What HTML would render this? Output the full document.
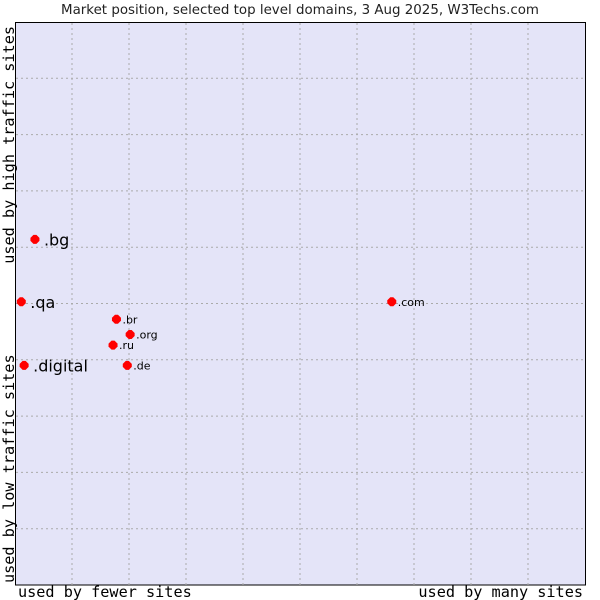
<!DOCTYPE html>
<html><head><meta charset="utf-8"><style>
body{margin:0;background:#fff}
svg{display:block}
</style></head><body>
<svg id="chart" width="600" height="600" xmlns="http://www.w3.org/2000/svg">
<text x="300" y="14" text-anchor="middle" font-family="DejaVu Sans, sans-serif" font-size="13.4" fill="#222">Market position, selected top level domains, 3 Aug 2025, W3Techs.com</text>
<rect x="15.5" y="22.5" width="570" height="562.5" fill="#e4e4f8" stroke="#000" stroke-width="1"/>
<g id="grid"></g>
<g id="points"></g>
<text transform="translate(14,26) rotate(-90)" text-anchor="end" font-family="DejaVu Sans Mono, monospace" font-size="15.2" fill="#000">used by high traffic sites</text>
<text transform="translate(14,583) rotate(-90)" text-anchor="start" font-family="DejaVu Sans Mono, monospace" font-size="15.2" fill="#000">used by low traffic sites</text>
<text x="18" y="597" font-family="DejaVu Sans Mono, monospace" font-size="15.2" fill="#000">used by fewer sites</text>
<text x="583" y="597" text-anchor="end" font-family="DejaVu Sans Mono, monospace" font-size="15.2" fill="#000">used by many sites</text>
</svg>
<script>
const labels = [".bg", ".qa", ".digital", ".br", ".org", ".ru", ".de", ".com"];
const xValues = [0.35, 0.11, 0.16, 1.78, 2.02, 1.72, 1.97, 6.61];
const yValues = [6.14, 5.03, 3.90, 4.72, 4.45, 4.26, 3.90, 5.03];
const bigLabel = [true, true, true, false, false, false, false, false];
const gridTicks = [1,2,3,4,5,6,7,8,9];

const NS = "http://www.w3.org/2000/svg";
const X0 = 15, X1 = 585, Y0 = 585, Y1 = 22;
function sx(v){ return X0 + v/10*(X1-X0); }
function sy(v){ return Y0 - v/10*(Y0-Y1); }

const grid = document.getElementById('grid');
gridTicks.forEach(t => {
  const v = document.createElementNS(NS,'line');
  
  
  v.setAttribute('x1', sx(t)); v.setAttribute('x2', sx(t));
  v.setAttribute('y1', Y1+1); v.setAttribute('y2', Y0);
  v.setAttribute('stroke', '#aaa'); v.setAttribute('stroke-dasharray', '2,3');
  grid.appendChild(v);
  const h = document.createElementNS(NS,'line');
  
  
  h.setAttribute('x1', X0+1); h.setAttribute('x2', X1);
  h.setAttribute('y1', sy(t)); h.setAttribute('y2', sy(t));
  h.setAttribute('stroke', '#aaa'); h.setAttribute('stroke-dasharray', '2,3');
  grid.appendChild(h);
});

const pts = document.getElementById('points');
labels.forEach((lab, i) => {
  const cx = sx(xValues[i]), cy = sy(yValues[i]);
  const p = document.createElementNS(NS,'polygon');
  
  
  p.setAttribute('points', `${cx-4.5},${cy-1.5} ${cx-1.5},${cy-4.5} ${cx+1.5},${cy-4.5} ${cx+4.5},${cy-1.5} ${cx+4.5},${cy+1.5} ${cx+1.5},${cy+4.5} ${cx-1.5},${cy+4.5} ${cx-4.5},${cy+1.5}`);
  p.setAttribute('fill', '#ff0000');
  pts.appendChild(p);
  const t = document.createElementNS(NS,'text');
  
  
  t.setAttribute('x', cx + (bigLabel[i] ? 9 : 6));
  t.setAttribute('y', cy + (bigLabel[i] ? 6 : 4));
  t.setAttribute('font-family', 'DejaVu Sans, sans-serif');
  t.setAttribute('font-size', bigLabel[i] ? '16' : '11');
  t.setAttribute('fill', '#000');
  t.textContent = lab;
  pts.appendChild(t);
});
</script>
</body></html>
